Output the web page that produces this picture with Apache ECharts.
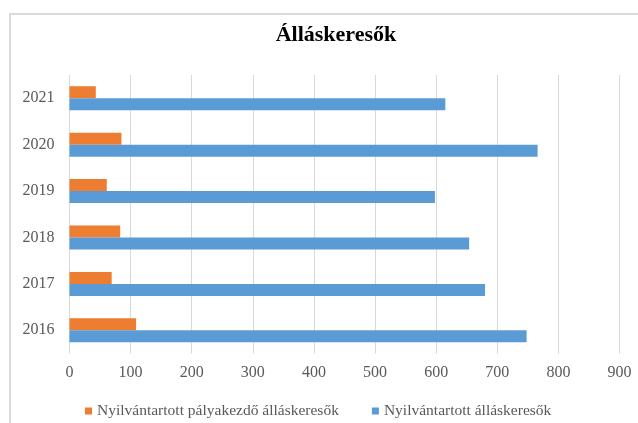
<!DOCTYPE html>
<html>
<head>
<meta charset="utf-8">
<script src="https://cdn.jsdelivr.net/npm/echarts@6/dist/echarts.min.js"></script>
<style>
html,body{margin:0;padding:0;background:#fff;}
#c{width:638px;height:423px;}
</style>
</head>
<body>
<div id="c"></div>
<script>
const titleText = 'Álláskeresők';
const years = ['2016', '2017', '2018', '2019', '2020', '2021'];
const seriesNames = ['Nyilvántartott pályakezdő álláskeresők', 'Nyilvántartott álláskeresők'];
const palyakezdo = [109, 69, 83, 61, 85, 43];
const allaskeresok = [748, 680, 654, 598, 766, 615];
const xTicks = { min: 0, max: 900, interval: 100 };

const FONT = '"Liberation Serif", "Times New Roman", serif';
const chart = echarts.init(document.getElementById('c'), null, { renderer: 'canvas' });
chart.setOption({
  animation: false,
  backgroundColor: '#fff',
  graphic: [{
    type: 'rect',
    shape: { x: 10, y: 14, width: 660, height: 440 },
    style: { fill: 'none', stroke: '#d9d9d9', lineWidth: 2 },
    silent: true
  }],
  title: {
    text: titleText,
    left: 331,
    textAlign: 'center',
    top: 19,
    textStyle: { fontFamily: FONT, fontSize: 22, fontWeight: 'bold', color: '#000' }
  },
  legend: {
    data: seriesNames,
    left: 80,
    top: 398,
    itemWidth: 7,
    itemHeight: 7,
    itemGap: 33,
    icon: 'rect',
    textStyle: { fontFamily: FONT, fontSize: 15.5, color: '#595959' }
  },
  grid: { left: 69.5, right: 18.5, top: 75, bottom: 69.5, containLabel: false },
  xAxis: {
    type: 'value',
    min: xTicks.min, max: xTicks.max, interval: xTicks.interval,
    axisLine: { show: false },
    axisTick: { show: false },
    splitLine: { show: true, lineStyle: { color: '#d9d9d9', width: 1 } },
    axisLabel: { fontFamily: FONT, fontSize: 16, color: '#595959', margin: 11 }
  },
  yAxis: {
    type: 'category',
    data: years,
    axisLine: { show: false },
    axisTick: { show: false },
    axisLabel: { fontFamily: FONT, fontSize: 16, color: '#595959', margin: 15 }
  },
  series: [
    {
      name: seriesNames[0], type: 'bar', data: palyakezdo,
      barWidth: 12, barGap: '0%',
      itemStyle: { color: '#ED7D31' }
    },
    {
      name: seriesNames[1], type: 'bar', data: allaskeresok,
      barWidth: 12, barGap: '0%',
      itemStyle: { color: '#5B9BD5' }
    }
  ]
});
</script>
</body>
</html>
